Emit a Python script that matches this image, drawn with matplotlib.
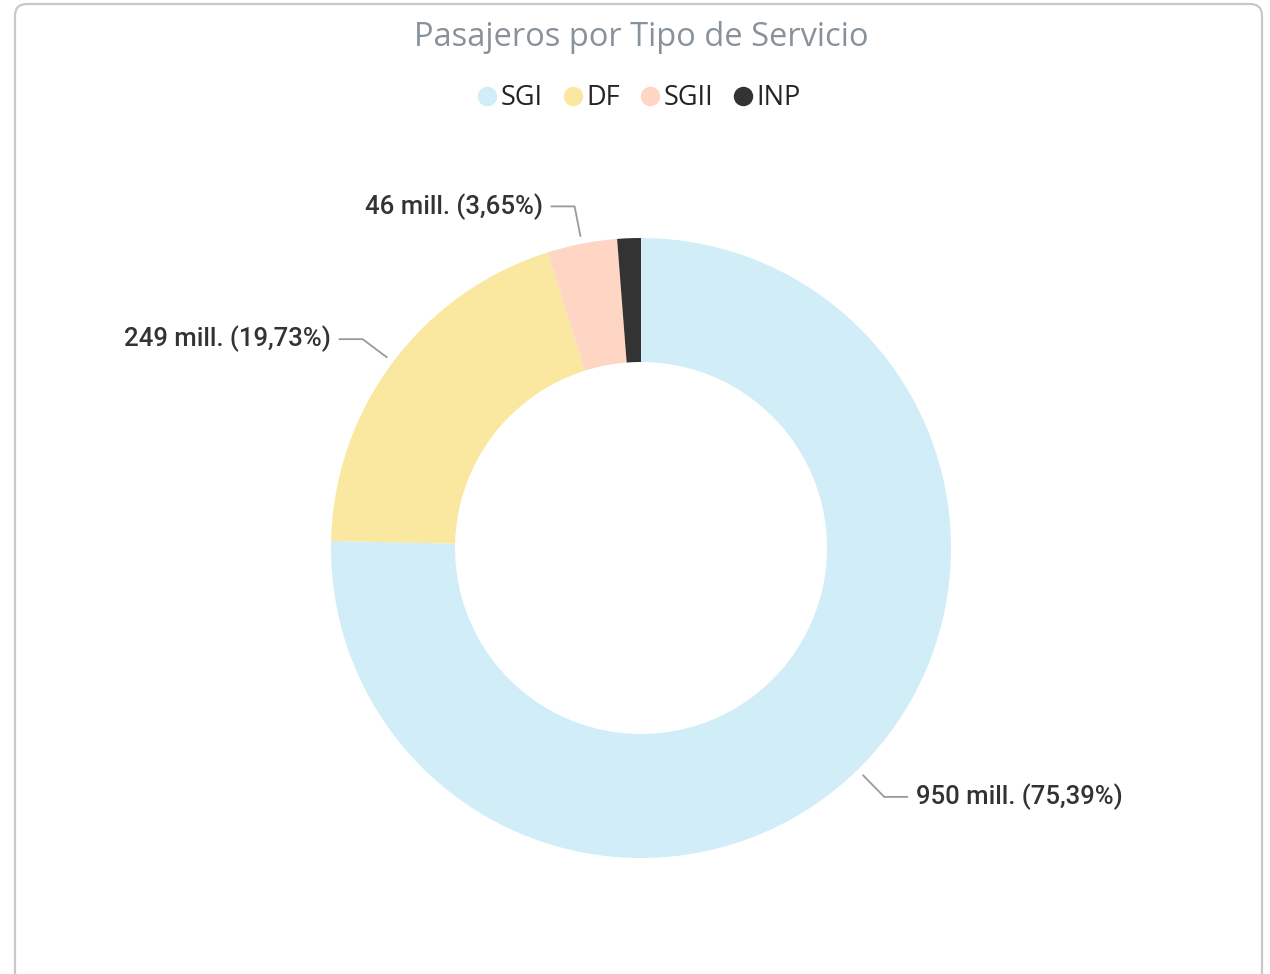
import numpy as np
import matplotlib
matplotlib.use("Agg")
from matplotlib import pyplot as plt
from matplotlib.patches import FancyBboxPatch
from matplotlib.lines import Line2D

services = ["SGI", "DF", "SGII", "INP"]
passengers = [950, 249, 46, 15.5]
percent_labels = ["75,39%", "19,73%", "3,65%", "1,23%"]
value_labels = ["950 mill.", "249 mill.", "46 mill.", "15 mill."]
colors = ["#D1EDF7", "#FAE8A1", "#FFD5C3", "#333333"]
show_label = [True, True, True, False]

W, H = 1270, 974
fig = plt.figure(figsize=(W / 100, H / 100), dpi=100)
ax = fig.add_axes([0, 0, 1, 1])
ax.set_xlim(0, W)
ax.set_ylim(0, H)
ax.set_aspect("equal")
ax.axis("off")

# card border (open at the bottom)
frame = FancyBboxPatch((15, -40), 1247, H - 4 + 40, boxstyle="round,pad=0,rounding_size=12",
                       fc="white", ec="#C8C8C8", lw=1.6, zorder=0)
ax.add_patch(frame)

cx, cy, R = 641, 426, 310
wedges, _ = ax.pie(passengers, colors=colors, startangle=90, counterclock=False,
                   radius=R, center=(cx, cy), wedgeprops=dict(width=R * 0.4, lw=0),
                   frame=True)
ax.set_xlim(0, W)
ax.set_ylim(0, H)
ax.axis("off")

for w, val, pct, show in zip(wedges, value_labels, percent_labels, show_label):
    if not show:
        continue
    ang = np.deg2rad((w.theta1 + w.theta2) / 2)
    x0, y0 = cx + (R + 8) * np.cos(ang), cy + (R + 8) * np.sin(ang)
    x1, y1 = cx + (R + 38) * np.cos(ang), cy + (R + 38) * np.sin(ang)
    side = 1 if np.cos(ang) > 0 else -1
    x2 = x1 + side * 23
    ax.plot([x0, x1, x2], [y0, y1, y1], color="#9A9A9A", lw=1.3, zorder=3)
    ax.text(x2 + side * 9, y1, f"{val} ({pct})", ha="left" if side > 0 else "right",
            va="center", fontsize=18.5, family="Roboto", fontweight="medium", color="#333333")

fig.text(641 / W, 1 - 37 / H, "Pasajeros por Tipo de Servicio", ha="center", va="center",
         fontsize=23.5, family="Open Sans", color="#88929A")

handles = [Line2D([], [], ls="", marker="o", markersize=14, markerfacecolor=c, markeredgewidth=0)
           for c in colors]
leg = fig.legend(handles, services, loc="center", bbox_to_anchor=(636 / W, 1 - 98 / H), ncol=4,
                 frameon=False, handletextpad=-0.1, columnspacing=0.5, handlelength=1.2,
                 prop=dict(family="Open Sans", size=19.5))
for t in leg.get_texts():
    t.set_color("#252423")

fig.savefig("out.png", dpi=100)
